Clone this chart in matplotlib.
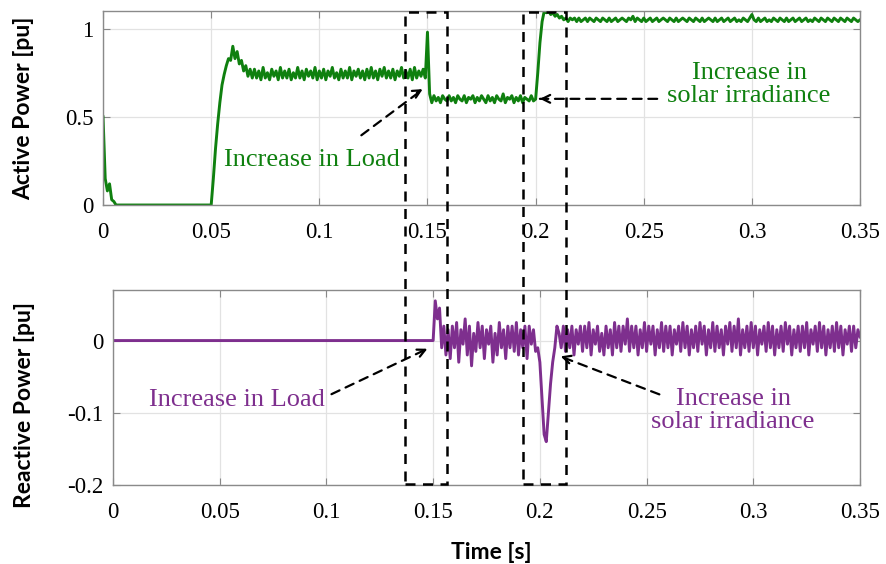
import numpy as np
import matplotlib.pyplot as plt
from matplotlib.patches import Rectangle
from matplotlib.transforms import blended_transform_factory

time_step = 0.001

active_power = (
    [0.50, 0.15, 0.08, 0.12, 0.03, 0.02, 0.00, 0.00, 0.00, 0.00]
    + [0.00] * 40
    + [0.00, 0.15, 0.32, 0.46, 0.58, 0.68, 0.74, 0.79, 0.83, 0.82]
    + [0.90, 0.83, 0.87, 0.80, 0.82, 0.76, 0.79, 0.73, 0.77, 0.72]
    + [0.77, 0.72, 0.76, 0.71, 0.78, 0.72, 0.75, 0.71, 0.77, 0.73]
    + [0.76, 0.71, 0.78, 0.72, 0.76, 0.72, 0.77, 0.71, 0.75, 0.72]
    + [0.78, 0.72, 0.76, 0.71, 0.77, 0.73, 0.76, 0.72, 0.78, 0.71]
    + [0.76, 0.72, 0.77, 0.71, 0.76, 0.73, 0.78, 0.72, 0.75, 0.71]
    + [0.77, 0.72, 0.76, 0.72, 0.78, 0.71, 0.76, 0.73, 0.77, 0.72]
    + [0.76, 0.71, 0.77, 0.72, 0.78, 0.72, 0.76, 0.71, 0.77, 0.73]
    + [0.78, 0.72, 0.76, 0.72, 0.77, 0.71, 0.76, 0.73, 0.78, 0.72]
    + [0.76, 0.72, 0.77, 0.71, 0.78, 0.72, 0.76, 0.73, 0.77, 0.72]
    + [0.98, 0.63, 0.58, 0.62, 0.59, 0.61, 0.58, 0.62, 0.60, 0.59]
    + [0.62, 0.59, 0.61, 0.58, 0.62, 0.60, 0.59, 0.62, 0.58, 0.61]
    + [0.60, 0.62, 0.58, 0.61, 0.59, 0.62, 0.60, 0.58, 0.62, 0.59]
    + [0.61, 0.58, 0.62, 0.60, 0.59, 0.63, 0.58, 0.61, 0.60, 0.62]
    + [0.58, 0.61, 0.59, 0.62, 0.58, 0.61, 0.60, 0.59, 0.62, 0.59]
    + [0.60, 0.75, 0.92, 1.04, 1.10, 1.09, 1.10, 1.08, 1.09, 1.07]
    + [1.08, 1.06, 1.07, 1.05, 1.06, 1.04, 1.06, 1.05, 1.06, 1.04]
    + [1.06, 1.04, 1.05, 1.06, 1.04, 1.06, 1.05, 1.04, 1.06, 1.05]
    + [1.04, 1.06, 1.05, 1.04, 1.06, 1.04, 1.05, 1.06, 1.04, 1.05]
    + [1.06, 1.05, 1.04, 1.06, 1.05, 1.07, 1.04, 1.06, 1.05, 1.04]
    + [1.06, 1.04, 1.05, 1.06, 1.04, 1.05, 1.06, 1.04, 1.05, 1.06]
    + [1.05, 1.04, 1.06, 1.05, 1.04, 1.06, 1.04, 1.05, 1.06, 1.05]
    + [1.04, 1.06, 1.05, 1.04, 1.06, 1.05, 1.04, 1.06, 1.04, 1.05]
    + [1.06, 1.05, 1.04, 1.06, 1.04, 1.05, 1.06, 1.04, 1.05, 1.06]
    + [1.04, 1.05, 1.06, 1.04, 1.05, 1.04, 1.06, 1.05, 1.04, 1.06]
    + [1.08, 1.05, 1.04, 1.06, 1.04, 1.05, 1.06, 1.04, 1.05, 1.04]
    + [1.06, 1.05, 1.04, 1.06, 1.05, 1.04, 1.06, 1.04, 1.05, 1.06]
    + [1.04, 1.05, 1.06, 1.04, 1.05, 1.06, 1.04, 1.05, 1.04, 1.06]
    + [1.05, 1.04, 1.06, 1.05, 1.04, 1.06, 1.05, 1.04, 1.06, 1.05]
    + [1.04, 1.06, 1.05, 1.04, 1.06, 1.05, 1.04, 1.06, 1.05, 1.04]
    + [1.05]
)

reactive_power = (
    [0.0] * 150
    + [0.000, 0.055, 0.030, 0.045, -0.010, 0.020, -0.020, 0.015, -0.025, 0.020]
    + [-0.010, 0.025, -0.030, 0.015, -0.005, 0.030, -0.020, 0.020, -0.035, 0.010]
    + [-0.015, 0.025, -0.010, 0.020, -0.025, 0.015, -0.005, 0.020, -0.030, 0.010]
    + [-0.020, 0.025, -0.010, 0.015, -0.025, 0.020, -0.010, 0.020, -0.015, 0.025]
    + [-0.020, 0.015, -0.010, 0.020, -0.025, 0.020, -0.005, 0.015, -0.015, -0.010]
    + [-0.030, -0.080, -0.130, -0.140, -0.100, -0.060, -0.030, -0.010, 0.020, 0.010]
    + [-0.010, 0.020, -0.015, 0.015, -0.010, 0.020, -0.020, 0.015, -0.005, 0.020]
    + [-0.015, 0.020, -0.010, 0.025, -0.020, 0.015, -0.005, 0.020, -0.015, 0.010]
    + [-0.020, 0.020, -0.010, 0.015, -0.020, 0.025, -0.010, 0.020, -0.015, 0.020]
    + [-0.005, 0.030, -0.015, 0.020, -0.010, 0.020, -0.020, 0.015, -0.010, 0.025]
    + [-0.015, 0.020, -0.005, 0.020, -0.020, 0.015, -0.010, 0.025, -0.015, 0.020]
    + [-0.010, 0.020, -0.020, 0.015, -0.005, 0.020, -0.015, 0.025, -0.010, 0.020]
    + [-0.020, 0.015, -0.010, 0.020, -0.015, 0.025, -0.005, 0.020, -0.020, 0.015]
    + [-0.010, 0.025, -0.015, 0.020, -0.010, 0.015, -0.020, 0.020, -0.005, 0.025]
    + [-0.015, 0.020, -0.010, 0.030, -0.020, 0.015, -0.010, 0.020, -0.015, 0.025]
    + [-0.010, 0.020, -0.020, 0.015, -0.005, 0.020, -0.015, 0.025, -0.010, 0.020]
    + [-0.020, 0.015, -0.010, 0.020, -0.015, 0.025, -0.005, 0.020, -0.020, 0.015]
    + [-0.010, 0.020, -0.015, 0.020, -0.010, 0.025, -0.020, 0.015, -0.005, 0.020]
    + [-0.015, 0.025, -0.010, 0.020, -0.020, 0.015, -0.010, 0.020, -0.015, 0.025]
    + [-0.010, 0.020, -0.020, 0.015, -0.005, 0.020, -0.015, 0.020, -0.010, 0.015]
    + [0.005]
)

x_ticks = [0, 0.05, 0.1, 0.15, 0.2, 0.25, 0.3, 0.35]
x_tick_labels = ['0', '0.05', '0.1', '0.15', '0.2', '0.25', '0.3', '0.35']
p_ticks = [0, 0.5, 1]
p_tick_labels = ['0', '0.5', '1']
q_ticks = [-0.2, -0.1, 0]
q_tick_labels = ['-0.2', '-0.1', '0']

t = np.arange(len(active_power)) * time_step

GREEN = '#0f800f'
PURPLE = '#7e2f8e'
serif = 'Liberation Serif'
label_font = dict(family='Lato', weight='bold', size=16.5)

fig = plt.figure(figsize=(8.86, 5.64), dpi=100)
ax1 = fig.add_axes([0.1163, 0.6365, 0.8544, 0.344])
ax2 = fig.add_axes([0.1275, 0.1401, 0.8432, 0.3457])

for ax in (ax1, ax2):
    ax.set_xlim(0, 0.35)
    ax.set_xticks(x_ticks)
    ax.set_xticklabels(x_tick_labels, family=serif, fontsize=16.5)
    ax.grid(True, color='#e2e2e2', linewidth=0.9)
    ax.set_axisbelow(True)
    ax.tick_params(direction='in', length=5, color='#888888', top=True, right=True,
                   labelsize=16.5)
    ax.tick_params(axis='x', pad=12)
    ax.tick_params(axis='y', pad=7)
    for s in ax.spines.values():
        s.set_color('#8a8a8a')
        s.set_linewidth(1.0)

ax1.plot(t, active_power, color=GREEN, linewidth=2.1)
ax1.set_ylim(0, 1.1)
ax1.set_yticks(p_ticks)
ax1.set_yticklabels(p_tick_labels, family=serif, fontsize=16.5)
ax1.set_ylabel('Active Power [pu]', fontdict=label_font)

ax2.plot(t, reactive_power, color=PURPLE, linewidth=2.1)
ax2.set_ylim(-0.2, 0.07)
ax2.set_yticks(q_ticks)
ax2.set_yticklabels(q_tick_labels, family=serif, fontsize=16.5)
ax2.set_ylabel('Reactive Power [pu]', fontdict=label_font)
ax2.set_xlabel('Time [s]', fontdict=label_font)
ax1.yaxis.set_label_coords(-0.091, 0.5)
ax2.yaxis.set_label_coords(-0.104, 0.41)
ax2.xaxis.set_label_coords(0.506, -0.29)


def dashed_arrow(ax, start, tip, head_from):
    ax.annotate('', xy=tip, xytext=start,
                arrowprops=dict(arrowstyle='-', linestyle=(0, (4, 3)), color='black', lw=1.6))
    ax.annotate('', xy=tip, xytext=head_from,
                arrowprops=dict(arrowstyle='->', color='black', lw=1.6, mutation_scale=14))


# top annotations
ax1.text(0.0964, 0.256, 'Increase in Load', color=GREEN, family=serif, fontsize=19,
         ha='center', va='center')
dashed_arrow(ax1, (0.1184, 0.386), (0.1489, 0.665), (0.1440, 0.630))
ax1.text(0.2987, 0.685, 'Increase in\nsolar irradiance', color=GREEN, family=serif,
         fontsize=19, ha='center', va='center', linespacing=1.05)
dashed_arrow(ax1, (0.2575, 0.602), (0.2007, 0.602), (0.2060, 0.602))

# bottom annotations
ax2.text(0.0579, -0.0828, 'Increase in Load', color=PURPLE, family=serif, fontsize=19,
         ha='center', va='center')
dashed_arrow(ax2, (0.1012, -0.0759), (0.1485, -0.0097), (0.1440, -0.0160))
ax2.text(0.2905, -0.0972, 'Increase in\nsolar irradiance', color=PURPLE, family=serif,
         fontsize=19, ha='center', va='center', linespacing=1.05)
dashed_arrow(ax2, (0.2572, -0.0759), (0.2085, -0.0207), (0.2130, -0.0250))

# dashed boxes around the two events, spanning both panels
tr = blended_transform_factory(ax1.transData, fig.transFigure)
for x0, x1 in [(0.1394, 0.1590), (0.1943, 0.2139)]:
    fig.patches.append(Rectangle((x0, 0.1418), x1 - x0, 0.837, transform=tr, fill=False,
                                 linestyle=(0, (4, 3)), linewidth=1.8, edgecolor='black',
                                 clip_on=False))

fig.savefig('out.png', dpi=100)
